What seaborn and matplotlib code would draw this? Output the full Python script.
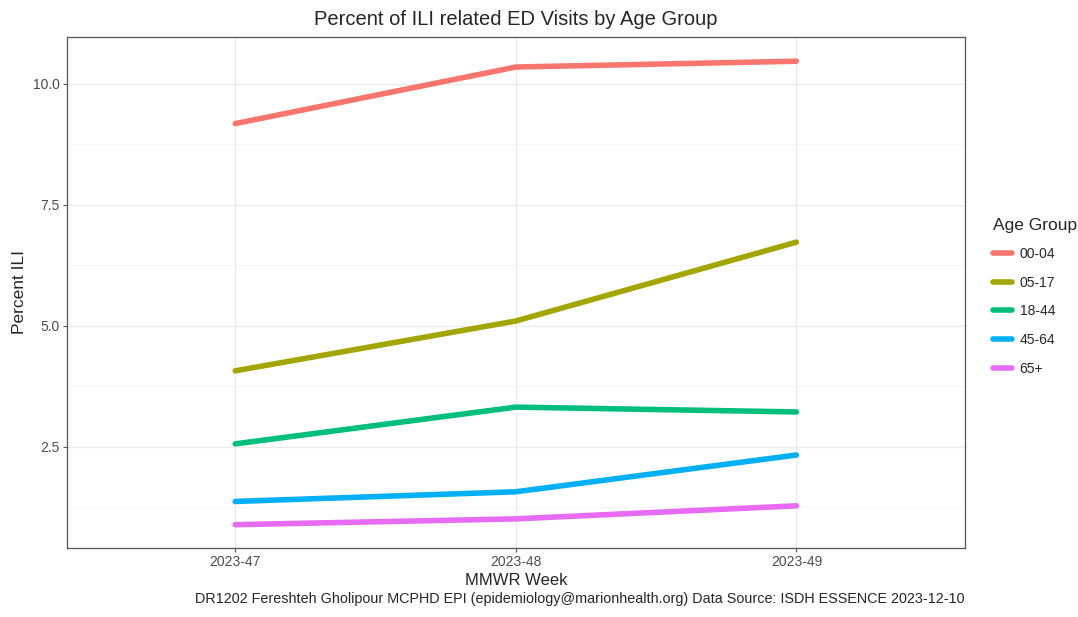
import pandas as pd
import matplotlib.pyplot as plt
import seaborn as sns
from matplotlib.ticker import MultipleLocator

# Data
weeks = ["2023-47", "2023-48", "2023-49"]
groups = ["00-04", "05-17", "18-44", "45-64", "65+"]
pct_00_04 = [9.18, 10.35, 10.47]
pct_05_17 = [4.07, 5.10, 6.73]
pct_18_44 = [2.56, 3.32, 3.22]
pct_45_64 = [1.37, 1.57, 2.33]
pct_65up = [0.89, 1.01, 1.28]
colors = ["#F8766D", "#A3A500", "#00BF7D", "#00B0F6", "#E76BF3"]

values = [pct_00_04, pct_05_17, pct_18_44, pct_45_64, pct_65up]
rows = []
for g, vals in zip(groups, values):
    for i, (w, v) in enumerate(zip(weeks, vals)):
        rows.append({"week": w, "pos": i, "Age Group": g, "pct": v})
df = pd.DataFrame(rows)

sns.set_style("white")
plt.rcParams['font.family'] = ['Liberation Sans', 'DejaVu Sans']

fig = plt.figure(figsize=(10.78, 6.17), dpi=100)
ax = fig.add_axes([0.062, 0.112, 0.833, 0.828])

sns.lineplot(data=df, x="pos", y="pct", hue="Age Group", hue_order=groups,
             palette=colors, linewidth=4, ax=ax, legend=True)

ax.set_xlim(-0.6, 2.6)
ax.set_ylim(0.41, 10.97)
ax.set_xticks(range(len(weeks)))
ax.set_xticklabels(weeks)
ax.yaxis.set_major_locator(MultipleLocator(2.5))
ax.yaxis.set_minor_locator(MultipleLocator(1.25))
ax.yaxis.set_major_formatter(plt.FuncFormatter(lambda v, p: f"{v:.1f}"))

ax.grid(True, which="major", color="#EBEBEB", linewidth=0.9)
ax.grid(True, which="minor", axis="y", color="#F3F3F3", linewidth=0.6)
ax.set_axisbelow(True)
for s in ax.spines.values():
    s.set_color("#555555")
    s.set_linewidth(0.9)
ax.tick_params(axis="both", which="major", length=3, color="#555555",
               labelsize=10, labelcolor="#4D4D4D", bottom=True, left=True, pad=2)
ax.tick_params(axis="y", which="minor", length=0)

ax.set_xlabel("MMWR Week", fontsize=12, labelpad=3)
ax.set_ylabel("Percent ILI", fontsize=12.5, labelpad=4)
ax.set_title("Percent of ILI related ED Visits by Age Group", fontsize=14.5, pad=9)

leg = ax.legend(title="Age Group", loc="center left", bbox_to_anchor=(1.017, 0.492),
                frameon=False, fontsize=10, title_fontsize=12.5,
                handlelength=1.4, handletextpad=0.55, labelspacing=1.05)
leg._legend_box.align = "left"

fig.text(0.895, 0.018, "DR1202 Fereshteh Gholipour MCPHD EPI (epidemiology@marionhealth.org) Data Source: ISDH ESSENCE 2023-12-10",
         ha="right", va="bottom", fontsize=10.4)

fig.savefig("out.png", dpi=100)
